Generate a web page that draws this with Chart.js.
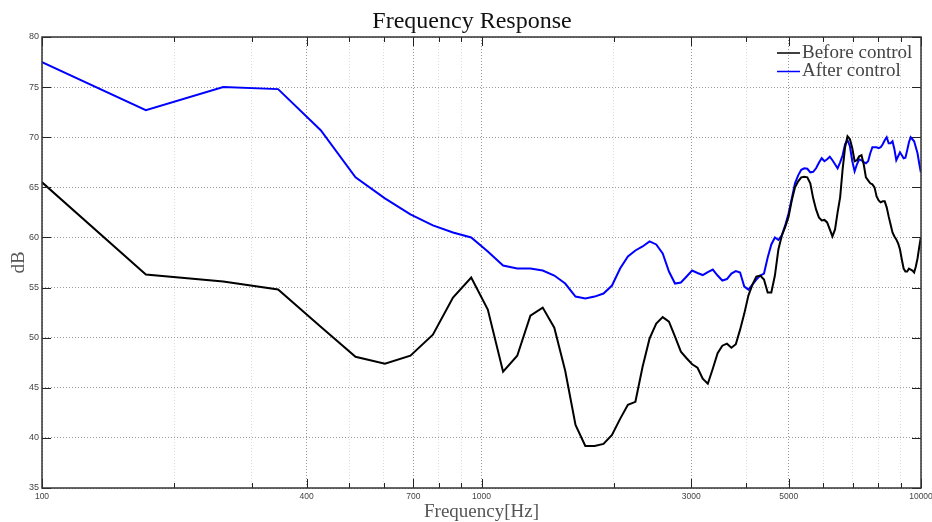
<!DOCTYPE html>
<html>
<head>
<meta charset="utf-8">
<script src="https://cdn.jsdelivr.net/npm/chart.js"></script>
<style>
  html, body { margin: 0; padding: 0; background: #fff; }
  #wrap { width: 932px; height: 522px; }
</style>
</head>
<body>
<div id="wrap"><canvas id="chart" width="932" height="522"></canvas></div>
<script>
const chartTitle = 'Frequency Response';
const xAxisTitle = 'Frequency[Hz]';
const yAxisTitle = 'dB';

// FFT bin frequencies (Hz), first point taken at the 100 Hz edge
const freqHz = [100, 172.3, 258.4, 344.5, 430.7, 516.8, 602.9, 689.1, 775.2, 861.3, 947.5,
  1033.6, 1119.7, 1205.9, 1292.0, 1378.1, 1464.3, 1550.4, 1636.5, 1722.7, 1808.8, 1894.9, 1981.1, 2067.2,
  2153.3, 2239.5, 2325.6, 2411.7, 2497.9, 2584.0, 2670.1, 2756.3, 2842.4, 2928.5, 3014.6, 3100.8, 3186.9,
  3273.0, 3359.2, 3445.3, 3531.4, 3617.6, 3703.7, 3789.8, 3876.0, 3962.1, 4048.2, 4134.4, 4220.5, 4306.6,
  4392.8, 4478.9, 4565.0, 4651.2, 4737.3, 4823.4, 4909.6, 4995.7, 5081.8, 5168.0,
  5254.1, 5340.2, 5426.4, 5512.5, 5598.6, 5684.8, 5770.9, 5857.0, 5943.2, 6029.3,
  6115.4, 6201.6, 6287.7, 6373.8, 6460.0, 6546.1, 6632.2, 6718.4, 6804.5, 6890.6,
  6976.8, 7062.9, 7149.0, 7235.2, 7321.3, 7407.4, 7493.6, 7579.7, 7665.8, 7752.0,
  7838.1, 7924.2, 8010.4, 8096.5, 8182.6, 8268.8, 8354.9, 8441.0, 8527.1, 8613.3,
  8699.4, 8785.5, 8871.7, 8957.8, 9043.9, 9130.1, 9216.2, 9302.3, 9388.5, 9474.6,
  9560.7, 9646.9, 9733.0, 9819.1, 9905.3, 9991.4];

const beforeControl = [65.5, 56.3, 55.6, 54.8, 51.1, 48.1, 47.4, 48.2, 50.3, 54.0, 56.0,
  52.8, 46.6, 48.2, 52.2, 53.0, 51.0, 46.7, 41.3, 39.2, 39.2, 39.4, 40.3, 41.9,
  43.3, 43.6, 47.1, 49.9, 51.4, 52.05, 51.6, 50.1, 48.6, 47.95, 47.35, 47.0, 45.9,
  45.4, 46.9, 48.45, 49.2, 49.4, 49.0, 49.35, 50.8, 52.4, 54.2, 55.3, 56.1, 56.2,
  55.8, 54.5, 54.5, 56.2, 58.8, 60.2, 61.05, 62.05, 63.7, 65.0,
  65.6, 66.0, 66.05, 66.0, 65.4, 63.9, 62.8, 62.0, 61.7, 61.75,
  61.5, 60.8, 60.1, 60.8, 62.5, 64.0, 66.8, 69.0, 70.1, 69.8,
  68.9, 67.6, 67.7, 68.1, 68.2, 67.3, 66.0, 65.7, 65.4, 65.3,
  65.0, 64.1, 63.7, 63.5, 63.6, 63.6, 63.0, 62.1, 61.3, 60.5,
  60.1, 59.8, 59.4, 58.8, 57.8, 56.9, 56.6, 56.6, 56.9, 56.8,
  56.7, 56.5, 57.1, 57.9, 59.0, 60.0];

const afterControl = [77.5, 72.7, 75.0, 74.8, 70.7, 66.0, 63.9, 62.3, 61.2, 60.5, 60.0,
  58.6, 57.2, 56.9, 56.9, 56.7, 56.2, 55.4, 54.1, 53.9, 54.1, 54.4, 55.2, 56.9,
  58.1, 58.7, 59.1, 59.6, 59.3, 58.4, 56.6, 55.4, 55.5, 56.1, 56.7, 56.45, 56.25,
  56.55, 56.8, 56.2, 55.7, 55.85, 56.4, 56.65, 56.5, 55.1, 54.8, 55.3, 55.8, 56.2,
  56.4, 58.0, 59.3, 60.0, 59.75, 60.2, 61.2, 62.4, 63.9, 65.4,
  66.2, 66.75, 66.9, 66.85, 66.5, 66.55, 66.9, 67.45, 67.9, 67.6,
  67.8, 68.05, 67.7, 67.3, 66.9, 67.5, 68.2, 69.3, 69.7, 69.1,
  67.6, 66.6, 67.3, 67.8, 67.7, 67.5, 67.4, 67.6, 68.4, 69.0,
  69.0, 69.0, 68.9, 69.0, 69.3, 69.7, 70.0, 69.4, 69.4, 69.6,
  68.8, 67.7, 68.1, 68.5, 68.2, 67.9, 67.95, 68.7, 69.5, 70.0,
  69.8, 69.6, 69.0, 68.4, 67.4, 66.5];

// log-axis ticks; only some of them carry a label
const xTicks = [100, 200, 300, 400, 500, 600, 700, 800, 900,
  1000, 2000, 3000, 4000, 5000, 6000, 7000, 8000, 9000, 10000];
const xTickLabels = [100, 400, 700, 1000, 3000, 5000, 10000];
const yTicks = [35, 40, 45, 50, 55, 60, 65, 70, 75, 80];

const toPoints = (ys) => freqHz.map((f, i) => ({ x: f, y: ys[i] }));

// frame, inward tick marks, title and in-plot legend
const plotDecor = {
  id: 'plotDecor',
  afterDraw(chart) {
    const { ctx, chartArea: a, scales: { x, y } } = chart;
    ctx.save();

    ctx.strokeStyle = '#222';
    ctx.lineWidth = 1;
    ctx.beginPath();
    x.ticks.forEach(t => {
      const px = Math.round(x.getPixelForValue(t.value)) + 0.5;
      const len = xTickLabels.includes(t.value) ? 9 : 5;
      ctx.moveTo(px, a.bottom); ctx.lineTo(px, a.bottom - len);
      ctx.moveTo(px, a.top); ctx.lineTo(px, a.top + len);
    });
    y.ticks.forEach(t => {
      const py = Math.round(y.getPixelForValue(t.value)) + 0.5;
      ctx.moveTo(a.left, py); ctx.lineTo(a.left + 9, py);
      ctx.moveTo(a.right, py); ctx.lineTo(a.right - 9, py);
    });
    ctx.stroke();

    ctx.strokeStyle = '#333';
    ctx.lineWidth = 1.5;
    ctx.strokeRect(a.left, a.top, a.right - a.left, a.bottom - a.top);

    ctx.fillStyle = '#111';
    ctx.font = '24px "Liberation Serif", serif';
    ctx.textAlign = 'center';
    ctx.textBaseline = 'middle';
    ctx.fillText(chartTitle, 472, 22);

    ctx.font = '19px "Liberation Serif", serif';
    ctx.textAlign = 'left';
    chart.data.datasets.forEach((ds, i) => {
      const ly = 53 + i * 18.5;
      ctx.strokeStyle = ds.borderColor;
      ctx.lineWidth = 1.5;
      ctx.beginPath();
      ctx.moveTo(777, ly); ctx.lineTo(800, ly);
      ctx.stroke();
      ctx.fillStyle = '#444';
      ctx.fillText(ds.label, 802, ly);
    });
    ctx.restore();
  }
};

new Chart(document.getElementById('chart'), {
  type: 'line',
  data: {
    datasets: [
      { label: 'Before control', data: toPoints(beforeControl), borderColor: '#000000', borderWidth: 2, pointRadius: 0, tension: 0 },
      { label: 'After control', data: toPoints(afterControl), borderColor: '#0000ff', borderWidth: 2, pointRadius: 0, tension: 0 }
    ]
  },
  options: {
    responsive: false,
    animation: false,
    devicePixelRatio: 1,
    layout: { padding: { top: 37, right: 11, bottom: 0, left: 0 } },
    plugins: {
      legend: { display: false },
      title: { display: false },
      tooltip: { enabled: false }
    },
    scales: {
      x: {
        type: 'logarithmic',
        min: 100,
        max: 10000,
        afterBuildTicks: (scale) => { scale.ticks = xTicks.map(v => ({ value: v })); },
        afterFit: (scale) => { scale.height = 34; scale.paddingLeft = 0; scale.paddingRight = 0; },
        ticks: {
          autoSkip: false,
          maxRotation: 0,
          minRotation: 0,
          padding: 4,
          color: '#444',
          font: { family: '"Liberation Sans", Arial, sans-serif', size: 8.5 },
          callback: (value) => xTickLabels.includes(value) ? String(value) : ''
        },
        grid: {
          drawTicks: false,
          lineWidth: 1,
          color: (c) => (c.tick && xTickLabels.includes(c.tick.value)) ? '#999999' : '#dddddd'
        },
        border: { display: false, dash: [1, 2] },
        title: {
          display: true,
          text: xAxisTitle,
          color: '#555',
          font: { family: '"Liberation Serif", serif', size: 19, lineHeight: 1 },
          padding: { top: 0, bottom: 0 }
        }
      },
      y: {
        min: 35,
        max: 80,
        afterBuildTicks: (scale) => { scale.ticks = yTicks.map(v => ({ value: v })); },
        afterFit: (scale) => { scale.width = 42; scale.paddingTop = 0; scale.paddingBottom = 0; },
        ticks: {
          padding: 3,
          color: '#444',
          font: { family: '"Liberation Sans", Arial, sans-serif', size: 9 }
        },
        grid: { drawTicks: false, lineWidth: 1, color: '#999999' },
        border: { display: false, dash: [1, 2] },
        title: {
          display: true,
          text: yAxisTitle,
          color: '#555',
          font: { family: '"Liberation Serif", serif', size: 19, lineHeight: 1 },
          padding: { top: 10, bottom: 0 }
        }
      }
    }
  },
  plugins: [plotDecor]
});
</script>
</body>
</html>
